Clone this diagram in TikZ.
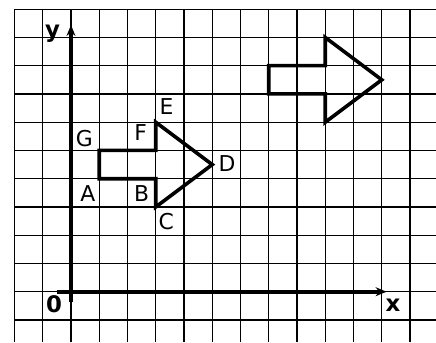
\documentclass[tikz,border=0pt]{standalone}
\usepackage{fontspec}
\newfontfamily\lblfont{DejaVu Sans}
\usetikzlibrary{arrows.meta}
\begin{document}
\begin{tikzpicture}[x=1cm,y=1cm,
  gridline/.style={line width=1.2pt, black},
  axisline/.style={line width=3.6pt, -{Stealth[length=11pt,width=9pt]}},
  shapeline/.style={line width=3.6pt, line join=miter},
  ptlabel/.style={font=\lblfont\fontsize{22}{22}\selectfont, inner sep=0pt},
  axlabel/.style={font=\lblfont\bfseries\fontsize{23}{23}\selectfont, inner sep=0pt}]
\useasboundingbox (-2.513,-1.781) rectangle (12.920,10.326);
\fill[white] (-2.513,-1.781) rectangle (12.920,10.326);
% grid
\foreach \i in {-2,...,12} \draw[gridline] (\i,-1.781) -- (\i,10);
\foreach \j in {-1,...,10} \draw[gridline] (-2,\j) -- (12.92,\j);
% axes
\coordinate (xs) at (-0.51,0);
\coordinate (xe) at (11.17,0);
\coordinate (ys) at (0,-0.35);
\coordinate (ye) at (0,9.44);
\draw[axisline] (xs) -- (xe);
\draw[axisline] (ys) -- (ye);
\node[axlabel] (lx) at (11.40,-0.47) {x};
\node[axlabel] (ly) at (-0.65,9.12) {y};
\node[axlabel] (lo) at (-0.60,-0.44) {0};
% first arrow
\coordinate (A) at (1,4);
\coordinate (B) at (3,4);
\coordinate (C) at (3,3);
\coordinate (D) at (5,4.5);
\coordinate (E) at (3,6);
\coordinate (F) at (3,5);
\coordinate (G) at (1,5);
\draw[shapeline] (A) -- (B) -- (C) -- (D) -- (E) -- (F) -- (G) -- cycle;
% second arrow
\begin{scope}[shift={(6,3)}]
\coordinate (A2) at (1,4);
\coordinate (B2) at (3,4);
\coordinate (C2) at (3,3);
\coordinate (D2) at (5,4.5);
\coordinate (E2) at (3,6);
\coordinate (F2) at (3,5);
\coordinate (G2) at (1,5);
\draw[shapeline] (A2) -- (B2) -- (C2) -- (D2) -- (E2) -- (F2) -- (G2) -- cycle;
\end{scope}
% labels
\node[ptlabel] (lA) at (0.60,3.49) {A};
\node[ptlabel] (lB) at (2.50,3.49) {B};
\node[ptlabel] (lC) at (3.37,2.48) {C};
\node[ptlabel] (lD) at (5.52,4.55) {D};
\node[ptlabel] (lE) at (3.38,6.54) {E};
\node[ptlabel] (lF) at (2.47,5.64) {F};
\node[ptlabel] (lG) at (0.47,5.41) {G};
\end{tikzpicture}
\end{document}
